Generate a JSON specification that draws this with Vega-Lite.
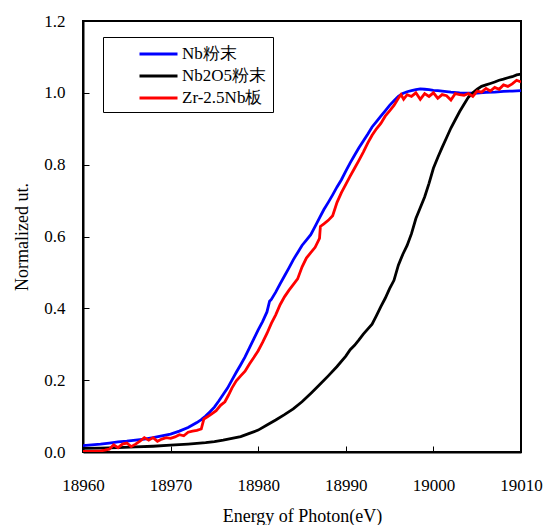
{
  "$schema": "https://vega.github.io/schema/vega-lite/v6.json",
  "width": 438,
  "height": 431,
  "autosize": {"type": "none"},
  "padding": {"left": 83, "top": 21, "right": 27, "bottom": 73},
  "background": "white",
  "config": {
    "view": {"stroke": "black", "strokeWidth": 2},
    "font": "Liberation Serif",
    "axis": {
      "grid": false,
      "domainColor": "black",
      "domainWidth": 2,
      "tickColor": "black",
      "tickWidth": 1,
      "tickSize": -6,
      "labelFlush": false,
      "labelFont": "Liberation Serif",
      "labelFontSize": 17,
      "labelColor": "black",
      "titleFont": "Liberation Serif",
      "titleFontSize": 18,
      "titleFontWeight": "normal",
      "titleColor": "black"
    }
  },
  "data": {"values": [
    {"s":"Nb粉末","e":18960,"v":0.018},{"s":"Nb粉末","e":18961,"v":0.020},{"s":"Nb粉末","e":18962,"v":0.022},{"s":"Nb粉末","e":18963,"v":0.025},{"s":"Nb粉末","e":18964,"v":0.028},{"s":"Nb粉末","e":18965,"v":0.030},{"s":"Nb粉末","e":18966,"v":0.033},{"s":"Nb粉末","e":18967,"v":0.036},{"s":"Nb粉末","e":18968,"v":0.040},{"s":"Nb粉末","e":18969,"v":0.045},{"s":"Nb粉末","e":18970,"v":0.050},{"s":"Nb粉末","e":18971,"v":0.058},{"s":"Nb粉末","e":18972,"v":0.068},{"s":"Nb粉末","e":18973,"v":0.082},{"s":"Nb粉末","e":18973.5,"v":0.090},{"s":"Nb粉末","e":18974,"v":0.100},{"s":"Nb粉末","e":18974.5,"v":0.112},{"s":"Nb粉末","e":18975,"v":0.125},{"s":"Nb粉末","e":18975.5,"v":0.142},{"s":"Nb粉末","e":18976,"v":0.160},{"s":"Nb粉末","e":18976.5,"v":0.178},{"s":"Nb粉末","e":18977,"v":0.200},{"s":"Nb粉末","e":18977.5,"v":0.222},{"s":"Nb粉末","e":18978,"v":0.243},{"s":"Nb粉末","e":18978.5,"v":0.265},{"s":"Nb粉末","e":18979,"v":0.290},{"s":"Nb粉末","e":18979.5,"v":0.315},{"s":"Nb粉末","e":18980,"v":0.340},{"s":"Nb粉末","e":18980.5,"v":0.363},{"s":"Nb粉末","e":18981,"v":0.390},{"s":"Nb粉末","e":18981.3,"v":0.420},{"s":"Nb粉末","e":18981.5,"v":0.425},{"s":"Nb粉末","e":18982,"v":0.445},{"s":"Nb粉末","e":18982.5,"v":0.468},{"s":"Nb粉末","e":18983,"v":0.490},{"s":"Nb粉末","e":18983.5,"v":0.512},{"s":"Nb粉末","e":18984,"v":0.535},{"s":"Nb粉末","e":18984.5,"v":0.555},{"s":"Nb粉末","e":18985,"v":0.575},{"s":"Nb粉末","e":18985.5,"v":0.590},{"s":"Nb粉末","e":18986,"v":0.605},{"s":"Nb粉末","e":18986.5,"v":0.628},{"s":"Nb粉末","e":18987,"v":0.652},{"s":"Nb粉末","e":18987.5,"v":0.675},{"s":"Nb粉末","e":18988,"v":0.695},{"s":"Nb粉末","e":18988.5,"v":0.716},{"s":"Nb粉末","e":18989,"v":0.738},{"s":"Nb粉末","e":18989.5,"v":0.758},{"s":"Nb粉末","e":18990,"v":0.782},{"s":"Nb粉末","e":18990.5,"v":0.805},{"s":"Nb粉末","e":18991,"v":0.826},{"s":"Nb粉末","e":18991.5,"v":0.847},{"s":"Nb粉末","e":18992,"v":0.866},{"s":"Nb粉末","e":18992.5,"v":0.885},{"s":"Nb粉末","e":18993,"v":0.905},{"s":"Nb粉末","e":18993.5,"v":0.920},{"s":"Nb粉末","e":18994,"v":0.935},{"s":"Nb粉末","e":18994.5,"v":0.950},{"s":"Nb粉末","e":18995,"v":0.965},{"s":"Nb粉末","e":18995.5,"v":0.978},{"s":"Nb粉末","e":18996,"v":0.990},{"s":"Nb粉末","e":18996.5,"v":0.998},{"s":"Nb粉末","e":18997,"v":1.003},{"s":"Nb粉末","e":18997.5,"v":1.006},{"s":"Nb粉末","e":18998,"v":1.009},{"s":"Nb粉末","e":18998.5,"v":1.011},{"s":"Nb粉末","e":18999,"v":1.010},{"s":"Nb粉末","e":18999.5,"v":1.009},{"s":"Nb粉末","e":19000,"v":1.007},{"s":"Nb粉末","e":19000.5,"v":1.006},{"s":"Nb粉末","e":19001,"v":1.005},{"s":"Nb粉末","e":19002,"v":1.002},{"s":"Nb粉末","e":19003,"v":1.000},{"s":"Nb粉末","e":19004,"v":0.999},{"s":"Nb粉末","e":19005,"v":0.999},{"s":"Nb粉末","e":19006,"v":1.001},{"s":"Nb粉末","e":19007,"v":1.002},{"s":"Nb粉末","e":19008,"v":1.004},{"s":"Nb粉末","e":19009,"v":1.005},{"s":"Nb粉末","e":19010,"v":1.006},

    {"s":"Nb2O5粉末","e":18960,"v":0.010},{"s":"Nb2O5粉末","e":18962,"v":0.011},{"s":"Nb2O5粉末","e":18964,"v":0.012},{"s":"Nb2O5粉末","e":18966,"v":0.014},{"s":"Nb2O5粉末","e":18968,"v":0.016},{"s":"Nb2O5粉末","e":18970,"v":0.019},{"s":"Nb2O5粉末","e":18972,"v":0.022},{"s":"Nb2O5粉末","e":18974,"v":0.026},{"s":"Nb2O5粉末","e":18975,"v":0.029},{"s":"Nb2O5粉末","e":18976,"v":0.033},{"s":"Nb2O5粉末","e":18977,"v":0.038},{"s":"Nb2O5粉末","e":18978,"v":0.043},{"s":"Nb2O5粉末","e":18979,"v":0.052},{"s":"Nb2O5粉末","e":18980,"v":0.061},{"s":"Nb2O5粉末","e":18981,"v":0.075},{"s":"Nb2O5粉末","e":18982,"v":0.089},{"s":"Nb2O5粉末","e":18983,"v":0.104},{"s":"Nb2O5粉末","e":18984,"v":0.120},{"s":"Nb2O5粉末","e":18985,"v":0.140},{"s":"Nb2O5粉末","e":18986,"v":0.163},{"s":"Nb2O5粉末","e":18987,"v":0.187},{"s":"Nb2O5粉末","e":18988,"v":0.212},{"s":"Nb2O5粉末","e":18989,"v":0.238},{"s":"Nb2O5粉末","e":18990,"v":0.267},{"s":"Nb2O5粉末","e":18990.5,"v":0.285},{"s":"Nb2O5粉末","e":18991,"v":0.297},{"s":"Nb2O5粉末","e":18991.5,"v":0.312},{"s":"Nb2O5粉末","e":18992,"v":0.328},{"s":"Nb2O5粉末","e":18992.5,"v":0.342},{"s":"Nb2O5粉末","e":18993,"v":0.356},{"s":"Nb2O5粉末","e":18993.5,"v":0.380},{"s":"Nb2O5粉末","e":18994,"v":0.405},{"s":"Nb2O5粉末","e":18994.5,"v":0.428},{"s":"Nb2O5粉末","e":18995,"v":0.455},{"s":"Nb2O5粉末","e":18995.5,"v":0.478},{"s":"Nb2O5粉末","e":18996,"v":0.520},{"s":"Nb2O5粉末","e":18996.5,"v":0.550},{"s":"Nb2O5粉末","e":18997,"v":0.575},{"s":"Nb2O5粉末","e":18997.5,"v":0.608},{"s":"Nb2O5粉末","e":18998,"v":0.650},{"s":"Nb2O5粉末","e":18998.5,"v":0.680},{"s":"Nb2O5粉末","e":18999,"v":0.710},{"s":"Nb2O5粉末","e":18999.5,"v":0.748},{"s":"Nb2O5粉末","e":19000,"v":0.790},{"s":"Nb2O5粉末","e":19000.5,"v":0.820},{"s":"Nb2O5粉末","e":19001,"v":0.848},{"s":"Nb2O5粉末","e":19001.5,"v":0.875},{"s":"Nb2O5粉末","e":19002,"v":0.902},{"s":"Nb2O5粉末","e":19002.5,"v":0.925},{"s":"Nb2O5粉末","e":19003,"v":0.948},{"s":"Nb2O5粉末","e":19003.5,"v":0.968},{"s":"Nb2O5粉末","e":19004,"v":0.988},{"s":"Nb2O5粉末","e":19004.5,"v":1.000},{"s":"Nb2O5粉末","e":19005,"v":1.010},{"s":"Nb2O5粉末","e":19005.5,"v":1.018},{"s":"Nb2O5粉末","e":19006,"v":1.022},{"s":"Nb2O5粉末","e":19006.5,"v":1.026},{"s":"Nb2O5粉末","e":19007,"v":1.030},{"s":"Nb2O5粉末","e":19007.5,"v":1.035},{"s":"Nb2O5粉末","e":19008,"v":1.038},{"s":"Nb2O5粉末","e":19008.5,"v":1.042},{"s":"Nb2O5粉末","e":19009,"v":1.045},{"s":"Nb2O5粉末","e":19009.5,"v":1.050},{"s":"Nb2O5粉末","e":19010,"v":1.052},

    {"s":"Zr-2.5Nb板","e":18960,"v":0.002},{"s":"Zr-2.5Nb板","e":18961,"v":0.002},{"s":"Zr-2.5Nb板","e":18962,"v":0.003},{"s":"Zr-2.5Nb板","e":18962.5,"v":0.005},{"s":"Zr-2.5Nb板","e":18963,"v":0.008},{"s":"Zr-2.5Nb板","e":18963.5,"v":0.020},{"s":"Zr-2.5Nb板","e":18964,"v":0.012},{"s":"Zr-2.5Nb板","e":18964.5,"v":0.022},{"s":"Zr-2.5Nb板","e":18965,"v":0.025},{"s":"Zr-2.5Nb板","e":18965.5,"v":0.015},{"s":"Zr-2.5Nb板","e":18966,"v":0.022},{"s":"Zr-2.5Nb板","e":18966.5,"v":0.030},{"s":"Zr-2.5Nb板","e":18967,"v":0.040},{"s":"Zr-2.5Nb板","e":18967.5,"v":0.033},{"s":"Zr-2.5Nb板","e":18968,"v":0.040},{"s":"Zr-2.5Nb板","e":18968.5,"v":0.030},{"s":"Zr-2.5Nb板","e":18969,"v":0.036},{"s":"Zr-2.5Nb板","e":18969.5,"v":0.040},{"s":"Zr-2.5Nb板","e":18970,"v":0.038},{"s":"Zr-2.5Nb板","e":18970.5,"v":0.042},{"s":"Zr-2.5Nb板","e":18971,"v":0.048},{"s":"Zr-2.5Nb板","e":18971.5,"v":0.045},{"s":"Zr-2.5Nb板","e":18972,"v":0.055},{"s":"Zr-2.5Nb板","e":18972.5,"v":0.058},{"s":"Zr-2.5Nb板","e":18973,"v":0.060},{"s":"Zr-2.5Nb板","e":18973.5,"v":0.064},{"s":"Zr-2.5Nb板","e":18973.8,"v":0.092},{"s":"Zr-2.5Nb板","e":18974.2,"v":0.098},{"s":"Zr-2.5Nb板","e":18974.7,"v":0.106},{"s":"Zr-2.5Nb板","e":18975.2,"v":0.115},{"s":"Zr-2.5Nb板","e":18975.7,"v":0.130},{"s":"Zr-2.5Nb板","e":18976.2,"v":0.140},{"s":"Zr-2.5Nb板","e":18976.6,"v":0.158},{"s":"Zr-2.5Nb板","e":18977,"v":0.178},{"s":"Zr-2.5Nb板","e":18977.5,"v":0.198},{"s":"Zr-2.5Nb板","e":18978,"v":0.212},{"s":"Zr-2.5Nb板","e":18978.5,"v":0.225},{"s":"Zr-2.5Nb板","e":18979,"v":0.245},{"s":"Zr-2.5Nb板","e":18979.5,"v":0.263},{"s":"Zr-2.5Nb板","e":18980,"v":0.282},{"s":"Zr-2.5Nb板","e":18980.5,"v":0.305},{"s":"Zr-2.5Nb板","e":18981,"v":0.330},{"s":"Zr-2.5Nb板","e":18981.5,"v":0.358},{"s":"Zr-2.5Nb板","e":18982,"v":0.382},{"s":"Zr-2.5Nb板","e":18982.5,"v":0.410},{"s":"Zr-2.5Nb板","e":18983,"v":0.432},{"s":"Zr-2.5Nb板","e":18983.5,"v":0.450},{"s":"Zr-2.5Nb板","e":18984,"v":0.466},{"s":"Zr-2.5Nb板","e":18984.5,"v":0.482},{"s":"Zr-2.5Nb板","e":18985,"v":0.515},{"s":"Zr-2.5Nb板","e":18985.5,"v":0.540},{"s":"Zr-2.5Nb板","e":18986,"v":0.555},{"s":"Zr-2.5Nb板","e":18986.5,"v":0.570},{"s":"Zr-2.5Nb板","e":18987,"v":0.595},{"s":"Zr-2.5Nb板","e":18987.1,"v":0.628},{"s":"Zr-2.5Nb板","e":18987.5,"v":0.635},{"s":"Zr-2.5Nb板","e":18988,"v":0.645},{"s":"Zr-2.5Nb板","e":18988.5,"v":0.658},{"s":"Zr-2.5Nb板","e":18989,"v":0.695},{"s":"Zr-2.5Nb板","e":18989.5,"v":0.722},{"s":"Zr-2.5Nb板","e":18990,"v":0.745},{"s":"Zr-2.5Nb板","e":18990.5,"v":0.768},{"s":"Zr-2.5Nb板","e":18991,"v":0.790},{"s":"Zr-2.5Nb板","e":18991.5,"v":0.812},{"s":"Zr-2.5Nb板","e":18992,"v":0.835},{"s":"Zr-2.5Nb板","e":18992.5,"v":0.860},{"s":"Zr-2.5Nb板","e":18993,"v":0.882},{"s":"Zr-2.5Nb板","e":18993.5,"v":0.900},{"s":"Zr-2.5Nb板","e":18994,"v":0.915},{"s":"Zr-2.5Nb板","e":18994.5,"v":0.935},{"s":"Zr-2.5Nb板","e":18995,"v":0.950},{"s":"Zr-2.5Nb板","e":18995.5,"v":0.965},{"s":"Zr-2.5Nb板","e":18996,"v":0.985},{"s":"Zr-2.5Nb板","e":18996.3,"v":0.995},{"s":"Zr-2.5Nb板","e":18996.6,"v":0.982},{"s":"Zr-2.5Nb板","e":18997,"v":0.995},{"s":"Zr-2.5Nb板","e":18997.5,"v":0.990},{"s":"Zr-2.5Nb板","e":18998,"v":1.000},{"s":"Zr-2.5Nb板","e":18998.5,"v":0.982},{"s":"Zr-2.5Nb板","e":18999,"v":0.998},{"s":"Zr-2.5Nb板","e":18999.5,"v":0.990},{"s":"Zr-2.5Nb板","e":19000,"v":1.000},{"s":"Zr-2.5Nb板","e":19000.5,"v":0.985},{"s":"Zr-2.5Nb板","e":19001,"v":0.995},{"s":"Zr-2.5Nb板","e":19001.5,"v":0.992},{"s":"Zr-2.5Nb板","e":19002,"v":0.980},{"s":"Zr-2.5Nb板","e":19002.5,"v":0.998},{"s":"Zr-2.5Nb板","e":19003,"v":0.995},{"s":"Zr-2.5Nb板","e":19003.5,"v":0.993},{"s":"Zr-2.5Nb板","e":19004,"v":0.998},{"s":"Zr-2.5Nb板","e":19004.5,"v":0.990},{"s":"Zr-2.5Nb板","e":19005,"v":1.005},{"s":"Zr-2.5Nb板","e":19005.5,"v":1.002},{"s":"Zr-2.5Nb板","e":19006,"v":1.012},{"s":"Zr-2.5Nb板","e":19006.5,"v":1.005},{"s":"Zr-2.5Nb板","e":19007,"v":1.015},{"s":"Zr-2.5Nb板","e":19007.5,"v":1.010},{"s":"Zr-2.5Nb板","e":19008,"v":1.022},{"s":"Zr-2.5Nb板","e":19008.5,"v":1.018},{"s":"Zr-2.5Nb板","e":19009,"v":1.025},{"s":"Zr-2.5Nb板","e":19009.5,"v":1.035},{"s":"Zr-2.5Nb板","e":19010,"v":1.030}
  ]},
  "mark": {"type": "line", "strokeWidth": 2.8, "clip": true},
  "encoding": {
    "x": {
      "field": "e", "type": "quantitative",
      "scale": {"domain": [18960, 19010], "nice": false, "zero": false},
      "axis": {"title": "Energy of Photon(eV)", "values": [18960, 18970, 18980, 18990, 19000, 19010], "format": "d", "labelPadding": 31, "titlePadding": 14}
    },
    "y": {
      "field": "v", "type": "quantitative",
      "scale": {"domain": [0, 1.2], "nice": false},
      "axis": {"title": "Normalized ut.", "values": [0, 0.2, 0.4, 0.6, 0.8, 1.0, 1.2], "format": ".1f", "labelPadding": 24, "titlePadding": 12}
    },
    "color": {
      "field": "s", "type": "nominal",
      "scale": {"domain": ["Nb粉末", "Nb2O5粉末", "Zr-2.5Nb板"], "range": ["#0000ff", "#000000", "#ff0000"]},
      "legend": {
        "orient": "none", "legendX": 20, "legendY": 16,
        "title": null,
        "strokeColor": "black", "fillColor": "white", "padding": 6,
        "symbolType": "M-2,0H2", "symbolSize": 361, "symbolStrokeWidth": 3, "symbolOffset": 38.5,
        "labelOffset": 12.5, "labelFont": "Liberation Serif", "labelFontSize": 17, "labelColor": "black",
        "labelExpr": "datum.label + '\u3000\u00a0'",
        "rowPadding": 3
      }
    }
  }
}
